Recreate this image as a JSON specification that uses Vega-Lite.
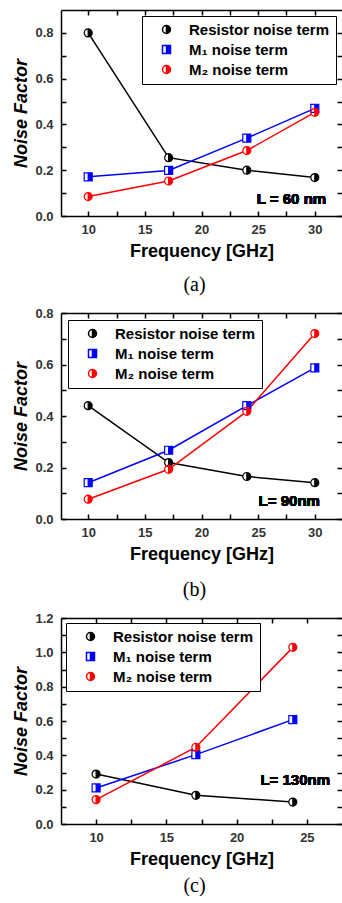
{
  "$schema": "https://vega.github.io/schema/vega-lite/v6.json",
  "padding": {"left": 12, "top": 9, "right": 0, "bottom": 0},
  "spacing": 12,
  "config": {
    "font": "Liberation Sans",
    "view": {"stroke": null},
    "axis": {
      "labelFont": "Liberation Sans", "labelFontWeight": "bold", "labelFontSize": 13, "labelColor": "#333333",
      "titleFont": "Liberation Sans", "titleFontWeight": "bold", "titleFontSize": 18, "titleColor": "#000000",
      "domainColor": "#000000", "domainWidth": 1.5, "tickColor": "#000000", "tickWidth": 1.5,
      "grid": false, "labelOverlap": false, "labelFlush": false
    },
    "legend": {
      "title": null, "labelFont": "Liberation Sans", "labelFontWeight": "bold", "labelFontSize": 15, "labelColor": "#000000",
      "fillColor": "#ffffff", "strokeColor": "#000000", "padding": 6, "rowPadding": 4,
      "symbolSize": 64, "symbolOffset": 11, "labelOffset": 15, "labelLimit": 220
    }
  },
  "resolve": {
    "scale": {"fill": "independent", "stroke": "independent", "shape": "independent"},
    "legend": {"fill": "independent", "stroke": "independent", "shape": "independent"}
  },
  "vconcat": [
    {
      "width": 281, "height": 206,
      "title": {"text": "(a)", "orient": "bottom", "anchor": "middle", "frame": "group", "font": "Liberation Serif", "fontSize": 20, "fontWeight": "normal", "color": "#000000", "offset": 15, "dx": -7},
      "data": {"values": [
        {"freq": 10, "nf": 0.80, "series": "Resistor noise term"},
        {"freq": 17.1, "nf": 0.255, "series": "Resistor noise term"},
        {"freq": 24, "nf": 0.20, "series": "Resistor noise term"},
        {"freq": 30, "nf": 0.168, "series": "Resistor noise term"},
        {"freq": 10, "nf": 0.171, "series": "M₁ noise term"},
        {"freq": 17.1, "nf": 0.199, "series": "M₁ noise term"},
        {"freq": 24, "nf": 0.34, "series": "M₁ noise term"},
        {"freq": 30, "nf": 0.47, "series": "M₁ noise term"},
        {"freq": 10, "nf": 0.085, "series": "M₂ noise term"},
        {"freq": 17.1, "nf": 0.153, "series": "M₂ noise term"},
        {"freq": 24, "nf": 0.286, "series": "M₂ noise term"},
        {"freq": 30, "nf": 0.453, "series": "M₂ noise term"}
      ]},
      "layer": [
        {
          "mark": {"type": "line", "strokeWidth": 1.5},
          "encoding": {
            "x": {"field": "freq", "type": "quantitative", "scale": {"domain": [7.6, 32.4], "nice": false, "zero": false},
              "axis": {"orient": "bottom", "values": [10, 12.5, 15, 17.5, 20, 22.5, 25, 27.5, 30], "labelExpr": "datum.value % 5 == 0 ? datum.label : ''", "title": "Frequency [GHz]", "tickSize": -5, "labelPadding": 12, "titlePadding": 6,
                "encode": {"ticks": {"y2": {"value": {"expr": "datum.value % 5 == 0 ? -5 : -2.5"}}}}}},
            "y": {"field": "nf", "type": "quantitative", "scale": {"domain": [0, 0.9], "nice": false, "zero": false},
              "axis": {"orient": "left", "values": [0, 0.1, 0.2, 0.3, 0.4, 0.5, 0.6, 0.7, 0.8], "format": ".1f", "labelExpr": "round(datum.value * 10) % 2 == 0 ? datum.label : ''", "title": "Noise Factor", "titleFontStyle": "italic", "tickSize": -5, "labelPadding": 13, "titlePadding": 4,
                "encode": {"ticks": {"x2": {"value": {"expr": "round(datum.value * 10) % 2 == 0 ? 5 : 2.5"}}}}}},
            "stroke": {"field": "series", "type": "nominal", "scale": {"domain": ["Resistor noise term", "M₁ noise term", "M₂ noise term"], "range": ["#000000", "#0000ff", "#ff0000"]}}
          }
        },
        {
          "transform": [{"filter": "datum.series != 'M₁ noise term'"}],
          "mark": {"type": "point", "shape": "circle", "filled": true, "fill": "#ffffff", "size": 64, "opacity": 1, "strokeWidth": 0},
          "encoding": {
            "x": {"field": "freq", "type": "quantitative", "axis": null},
            "y": {"field": "nf", "type": "quantitative", "axis": null}
          }
        },
        {
          "transform": [{"filter": "datum.series == 'M₁ noise term'"}],
          "mark": {"type": "point", "shape": "square", "filled": true, "fill": "#ffffff", "size": 64, "opacity": 1, "strokeWidth": 0},
          "encoding": {
            "x": {"field": "freq", "type": "quantitative", "axis": null},
            "y": {"field": "nf", "type": "quantitative", "axis": null}
          }
        },
        {
          "mark": {"type": "point", "filled": true, "size": 64, "opacity": 1, "strokeWidth": 1.2},
          "encoding": {
            "x": {"field": "freq", "type": "quantitative",
              "axis": {"orient": "top", "values": [10, 12.5, 15, 17.5, 20, 22.5, 25, 27.5, 30], "labels": false, "title": null, "tickSize": -5,
                "encode": {"ticks": {"y2": {"value": {"expr": "datum.value % 5 == 0 ? 5 : 2.5"}}}}}},
            "y": {"field": "nf", "type": "quantitative",
              "axis": {"orient": "right", "values": [0, 0.1, 0.2, 0.3, 0.4, 0.5, 0.6, 0.7, 0.8], "labels": false, "title": null, "domain": false, "tickSize": -5,
                "encode": {"ticks": {"x2": {"value": {"expr": "round(datum.value * 10) % 2 == 0 ? -5 : -2.5"}}}}}},
            "fill": {"field": "series", "type": "nominal", "scale": {"domain": ["Resistor noise term", "M₁ noise term", "M₂ noise term"], "range": ["#000000", "#0000ff", "#ff0000"]},
              "legend": {"orient": "top-right", "offset": 6}},
            "stroke": {"field": "series", "type": "nominal"},
            "shape": {"field": "series", "type": "nominal", "scale": {"domain": ["Resistor noise term", "M₁ noise term", "M₂ noise term"], "range": ["M0,-1A1,1 0 1,1 0,1A1,1 0 1,1 0,-1ZM0,-1A1,1 0 0,0 0,1Z", "M-1,-1H1V1H-1ZM0,-1H-1V1H0Z", "M0,-1A1,1 0 1,1 0,1A1,1 0 1,1 0,-1ZM0,-1A1,1 0 0,0 0,1Z"]}}
          }
        },
        {
          "mark": {"type": "text", "text": "L = 60 nm", "align": "right", "baseline": "middle", "font": "Liberation Sans", "fontSize": 15, "fontWeight": "bold", "fill": "#000000"},
          "encoding": {
            "x": {"datum": 31.0, "type": "quantitative", "axis": null},
            "y": {"datum": 0.074, "type": "quantitative", "axis": null}
          }
        }
      ],
      "resolve": {"axis": {"x": "independent", "y": "independent"}}
    },
    {
      "width": 281, "height": 206,
      "title": {"text": "(b)", "orient": "bottom", "anchor": "middle", "frame": "group", "font": "Liberation Serif", "fontSize": 20, "fontWeight": "normal", "color": "#000000", "offset": 17, "dx": -7},
      "data": {"values": [
        {"freq": 10, "nf": 0.44, "series": "Resistor noise term"},
        {"freq": 17.1, "nf": 0.219, "series": "Resistor noise term"},
        {"freq": 24, "nf": 0.165, "series": "Resistor noise term"},
        {"freq": 30, "nf": 0.141, "series": "Resistor noise term"},
        {"freq": 10, "nf": 0.141, "series": "M₁ noise term"},
        {"freq": 17.1, "nf": 0.267, "series": "M₁ noise term"},
        {"freq": 24, "nf": 0.44, "series": "M₁ noise term"},
        {"freq": 30, "nf": 0.587, "series": "M₁ noise term"},
        {"freq": 10, "nf": 0.077, "series": "M₂ noise term"},
        {"freq": 17.1, "nf": 0.193, "series": "M₂ noise term"},
        {"freq": 24, "nf": 0.418, "series": "M₂ noise term"},
        {"freq": 30, "nf": 0.72, "series": "M₂ noise term"}
      ]},
      "layer": [
        {
          "mark": {"type": "line", "strokeWidth": 1.5},
          "encoding": {
            "x": {"field": "freq", "type": "quantitative", "scale": {"domain": [7.6, 32.4], "nice": false, "zero": false},
              "axis": {"orient": "bottom", "values": [10, 12.5, 15, 17.5, 20, 22.5, 25, 27.5, 30], "labelExpr": "datum.value % 5 == 0 ? datum.label : ''", "title": "Frequency [GHz]", "tickSize": -5, "labelPadding": 12, "titlePadding": 6,
                "encode": {"ticks": {"y2": {"value": {"expr": "datum.value % 5 == 0 ? -5 : -2.5"}}}}}},
            "y": {"field": "nf", "type": "quantitative", "scale": {"domain": [0, 0.8], "nice": false, "zero": false},
              "axis": {"orient": "left", "values": [0, 0.1, 0.2, 0.3, 0.4, 0.5, 0.6, 0.7, 0.8], "format": ".1f", "labelExpr": "round(datum.value * 10) % 2 == 0 ? datum.label : ''", "title": "Noise Factor", "titleFontStyle": "italic", "tickSize": -5, "labelPadding": 13, "titlePadding": 4,
                "encode": {"ticks": {"x2": {"value": {"expr": "round(datum.value * 10) % 2 == 0 ? 5 : 2.5"}}}}}},
            "stroke": {"field": "series", "type": "nominal", "scale": {"domain": ["Resistor noise term", "M₁ noise term", "M₂ noise term"], "range": ["#000000", "#0000ff", "#ff0000"]}}
          }
        },
        {
          "transform": [{"filter": "datum.series != 'M₁ noise term'"}],
          "mark": {"type": "point", "shape": "circle", "filled": true, "fill": "#ffffff", "size": 64, "opacity": 1, "strokeWidth": 0},
          "encoding": {
            "x": {"field": "freq", "type": "quantitative", "axis": null},
            "y": {"field": "nf", "type": "quantitative", "axis": null}
          }
        },
        {
          "transform": [{"filter": "datum.series == 'M₁ noise term'"}],
          "mark": {"type": "point", "shape": "square", "filled": true, "fill": "#ffffff", "size": 64, "opacity": 1, "strokeWidth": 0},
          "encoding": {
            "x": {"field": "freq", "type": "quantitative", "axis": null},
            "y": {"field": "nf", "type": "quantitative", "axis": null}
          }
        },
        {
          "mark": {"type": "point", "filled": true, "size": 64, "opacity": 1, "strokeWidth": 1.2},
          "encoding": {
            "x": {"field": "freq", "type": "quantitative",
              "axis": {"orient": "top", "values": [10, 12.5, 15, 17.5, 20, 22.5, 25, 27.5, 30], "labels": false, "title": null, "tickSize": -5,
                "encode": {"ticks": {"y2": {"value": {"expr": "datum.value % 5 == 0 ? 5 : 2.5"}}}}}},
            "y": {"field": "nf", "type": "quantitative",
              "axis": {"orient": "right", "values": [0, 0.1, 0.2, 0.3, 0.4, 0.5, 0.6, 0.7, 0.8], "labels": false, "title": null, "domain": false, "tickSize": -5,
                "encode": {"ticks": {"x2": {"value": {"expr": "round(datum.value * 10) % 2 == 0 ? -5 : -2.5"}}}}}},
            "fill": {"field": "series", "type": "nominal", "scale": {"domain": ["Resistor noise term", "M₁ noise term", "M₂ noise term"], "range": ["#000000", "#0000ff", "#ff0000"]},
              "legend": {"orient": "top-left", "offset": 7}},
            "stroke": {"field": "series", "type": "nominal"},
            "shape": {"field": "series", "type": "nominal", "scale": {"domain": ["Resistor noise term", "M₁ noise term", "M₂ noise term"], "range": ["M0,-1A1,1 0 1,1 0,1A1,1 0 1,1 0,-1ZM0,-1A1,1 0 0,0 0,1Z", "M-1,-1H1V1H-1ZM0,-1H-1V1H0Z", "M0,-1A1,1 0 1,1 0,1A1,1 0 1,1 0,-1ZM0,-1A1,1 0 0,0 0,1Z"]}}
          }
        },
        {
          "mark": {"type": "text", "text": "L= 90nm", "align": "right", "baseline": "middle", "font": "Liberation Sans", "fontSize": 15, "fontWeight": "bold", "fill": "#000000"},
          "encoding": {
            "x": {"datum": 30.45, "type": "quantitative", "axis": null},
            "y": {"datum": 0.07, "type": "quantitative", "axis": null}
          }
        }
      ],
      "resolve": {"axis": {"x": "independent", "y": "independent"}}
    },
    {
      "width": 281, "height": 206,
      "title": {"text": "(c)", "orient": "bottom", "anchor": "middle", "frame": "group", "font": "Liberation Serif", "fontSize": 20, "fontWeight": "normal", "color": "#000000", "offset": 8, "dx": -7},
      "data": {"values": [
        {"freq": 10, "nf": 0.291, "series": "Resistor noise term"},
        {"freq": 17.1, "nf": 0.167, "series": "Resistor noise term"},
        {"freq": 24, "nf": 0.128, "series": "Resistor noise term"},
        {"freq": 10, "nf": 0.21, "series": "M₁ noise term"},
        {"freq": 17.1, "nf": 0.404, "series": "M₁ noise term"},
        {"freq": 24, "nf": 0.608, "series": "M₁ noise term"},
        {"freq": 10, "nf": 0.142, "series": "M₂ noise term"},
        {"freq": 17.1, "nf": 0.447, "series": "M₂ noise term"},
        {"freq": 24, "nf": 1.029, "series": "M₂ noise term"}
      ]},
      "layer": [
        {
          "mark": {"type": "line", "strokeWidth": 1.5},
          "encoding": {
            "x": {"field": "freq", "type": "quantitative", "scale": {"domain": [7.5, 27.5], "nice": false, "zero": false},
              "axis": {"orient": "bottom", "values": [10, 12.5, 15, 17.5, 20, 22.5, 25], "labelExpr": "datum.value % 5 == 0 ? datum.label : ''", "title": "Frequency [GHz]", "tickSize": -5, "labelPadding": 12, "titlePadding": 6,
                "encode": {"ticks": {"y2": {"value": {"expr": "datum.value % 5 == 0 ? -5 : -2.5"}}}}}},
            "y": {"field": "nf", "type": "quantitative", "scale": {"domain": [0, 1.2], "nice": false, "zero": false},
              "axis": {"orient": "left", "values": [0, 0.1, 0.2, 0.3, 0.4, 0.5, 0.6, 0.7, 0.8, 0.9, 1.0, 1.1, 1.2], "format": ".1f", "labelExpr": "round(datum.value * 10) % 2 == 0 ? datum.label : ''", "title": "Noise Factor", "titleFontStyle": "italic", "tickSize": -5, "labelPadding": 13, "titlePadding": 4,
                "encode": {"ticks": {"x2": {"value": {"expr": "round(datum.value * 10) % 2 == 0 ? 5 : 2.5"}}}}}},
            "stroke": {"field": "series", "type": "nominal", "scale": {"domain": ["Resistor noise term", "M₁ noise term", "M₂ noise term"], "range": ["#000000", "#0000ff", "#ff0000"]}}
          }
        },
        {
          "transform": [{"filter": "datum.series != 'M₁ noise term'"}],
          "mark": {"type": "point", "shape": "circle", "filled": true, "fill": "#ffffff", "size": 64, "opacity": 1, "strokeWidth": 0},
          "encoding": {
            "x": {"field": "freq", "type": "quantitative", "axis": null},
            "y": {"field": "nf", "type": "quantitative", "axis": null}
          }
        },
        {
          "transform": [{"filter": "datum.series == 'M₁ noise term'"}],
          "mark": {"type": "point", "shape": "square", "filled": true, "fill": "#ffffff", "size": 64, "opacity": 1, "strokeWidth": 0},
          "encoding": {
            "x": {"field": "freq", "type": "quantitative", "axis": null},
            "y": {"field": "nf", "type": "quantitative", "axis": null}
          }
        },
        {
          "mark": {"type": "point", "filled": true, "size": 64, "opacity": 1, "strokeWidth": 1.2},
          "encoding": {
            "x": {"field": "freq", "type": "quantitative",
              "axis": {"orient": "top", "values": [10, 12.5, 15, 17.5, 20, 22.5, 25], "labels": false, "title": null, "tickSize": -5,
                "encode": {"ticks": {"y2": {"value": {"expr": "datum.value % 5 == 0 ? 5 : 2.5"}}}}}},
            "y": {"field": "nf", "type": "quantitative",
              "axis": {"orient": "right", "values": [0, 0.1, 0.2, 0.3, 0.4, 0.5, 0.6, 0.7, 0.8, 0.9, 1.0, 1.1, 1.2], "labels": false, "title": null, "domain": false, "tickSize": -5,
                "encode": {"ticks": {"x2": {"value": {"expr": "round(datum.value * 10) % 2 == 0 ? -5 : -2.5"}}}}}},
            "fill": {"field": "series", "type": "nominal", "scale": {"domain": ["Resistor noise term", "M₁ noise term", "M₂ noise term"], "range": ["#000000", "#0000ff", "#ff0000"]},
              "legend": {"orient": "top-left", "offset": 5}},
            "stroke": {"field": "series", "type": "nominal"},
            "shape": {"field": "series", "type": "nominal", "scale": {"domain": ["Resistor noise term", "M₁ noise term", "M₂ noise term"], "range": ["M0,-1A1,1 0 1,1 0,1A1,1 0 1,1 0,-1ZM0,-1A1,1 0 0,0 0,1Z", "M-1,-1H1V1H-1ZM0,-1H-1V1H0Z", "M0,-1A1,1 0 1,1 0,1A1,1 0 1,1 0,-1ZM0,-1A1,1 0 0,0 0,1Z"]}}
          }
        },
        {
          "mark": {"type": "text", "text": "L= 130nm", "align": "right", "baseline": "middle", "font": "Liberation Sans", "fontSize": 15, "fontWeight": "bold", "fill": "#000000"},
          "encoding": {
            "x": {"datum": 26.65, "type": "quantitative", "axis": null},
            "y": {"datum": 0.258, "type": "quantitative", "axis": null}
          }
        }
      ],
      "resolve": {"axis": {"x": "independent", "y": "independent"}}
    }
  ]
}
